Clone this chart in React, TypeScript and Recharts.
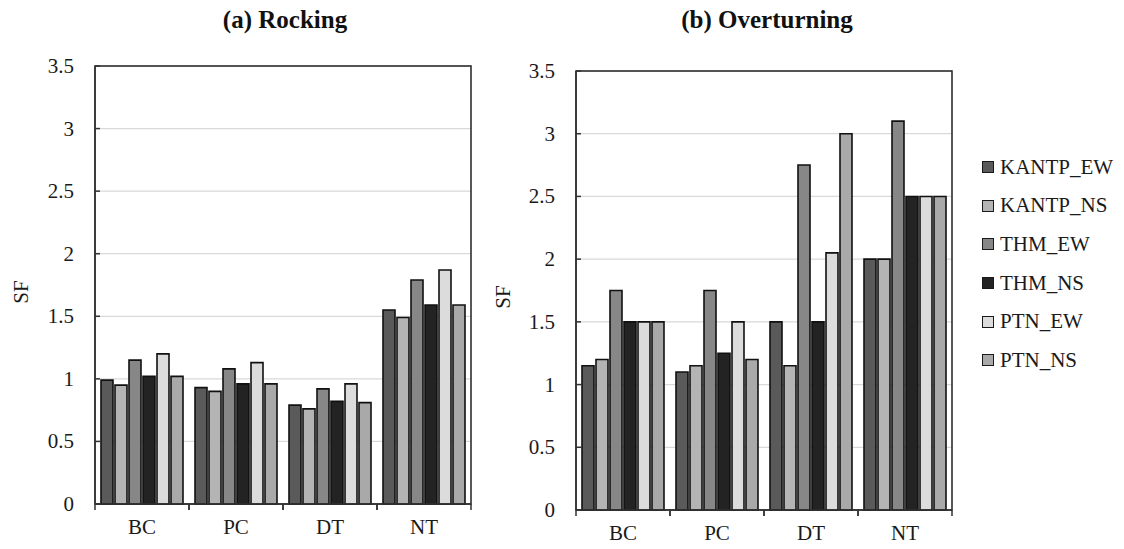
import { BarChart, Bar, XAxis, YAxis, CartesianGrid, ReferenceArea } from "recharts";

const categories = ["BC", "PC", "DT", "NT"];
const seriesNames = ["KANTP_EW", "KANTP_NS", "THM_EW", "THM_NS", "PTN_EW", "PTN_NS"];
const seriesColors = ["#5a5a5a", "#b4b4b4", "#878787", "#232323", "#dcdcdc", "#a9a9a9"];
const yTicks = [0, 0.5, 1, 1.5, 2, 2.5, 3, 3.5];

// (a) Rocking, one list per series in category order
const rockKantpEw = [0.99, 0.93, 0.79, 1.55];
const rockKantpNs = [0.95, 0.9, 0.76, 1.49];
const rockThmEw = [1.15, 1.08, 0.92, 1.79];
const rockThmNs = [1.02, 0.96, 0.82, 1.59];
const rockPtnEw = [1.2, 1.13, 0.96, 1.87];
const rockPtnNs = [1.02, 0.96, 0.81, 1.59];

// (b) Overturning
const overKantpEw = [1.15, 1.1, 1.5, 2.0];
const overKantpNs = [1.2, 1.15, 1.15, 2.0];
const overThmEw = [1.75, 1.75, 2.75, 3.1];
const overThmNs = [1.5, 1.25, 1.5, 2.5];
const overPtnEw = [1.5, 1.5, 2.05, 2.5];
const overPtnNs = [1.5, 1.2, 3.0, 2.5];

const buildRows = (lists: number[][]) =>
  categories.map((cat, i) => {
    const row: Record<string, string | number> = { cat };
    seriesNames.forEach((s, j) => (row[s] = lists[j][i]));
    return row;
  });

const rockingData = buildRows([rockKantpEw, rockKantpNs, rockThmEw, rockThmNs, rockPtnEw, rockPtnNs]);
const overturningData = buildRows([overKantpEw, overKantpNs, overThmEw, overThmNs, overPtnEw, overPtnNs]);

const FONT = "'Liberation Serif', 'Times New Roman', serif";
const HALF_BAND = 47;

const YTick = (props: any) => {
  const { x, y, payload } = props;
  return (
    <g>
      <line x1={x} x2={x + 5} y1={y} y2={y} stroke="#333" strokeWidth={1.5} />
      <text x={x - 21} y={y} textAnchor="end" dominantBaseline="central" fontSize={21} fontFamily={FONT} fill="#1a1a1a">
        {payload.value}
      </text>
    </g>
  );
};

const XTick = (props: any) => {
  const { x, y, payload } = props;
  return (
    <g>
      <line x1={x - HALF_BAND} x2={x - HALF_BAND} y1={y} y2={y + 6} stroke="#333" strokeWidth={1.5} />
      <line x1={x + HALF_BAND} x2={x + HALF_BAND} y1={y} y2={y + 6} stroke="#333" strokeWidth={1.5} />
      <text x={x} y={y + 23} textAnchor="middle" dominantBaseline="central" fontSize={21} fontFamily={FONT} fill="#1a1a1a">
        {payload.value}
      </text>
    </g>
  );
};

const Panel = ({ data, width, margin }: { data: any[]; width: number; margin: any }) => (
  <BarChart width={width} height={549} data={data} margin={margin} barCategoryGap={6} barGap={2}>
    <CartesianGrid vertical={false} stroke="#d9d9d9" strokeWidth={1.2} />
    <XAxis
      dataKey="cat"
      height={30}
      tickSize={0}
      tickMargin={0}
      tickLine={false}
      axisLine={{ stroke: "#333", strokeWidth: 1.5 }}
      tick={<XTick />}
      interval={0}
    />
    <YAxis
      width={60}
      domain={[0, 3.5]}
      ticks={yTicks}
      tickSize={0}
      tickMargin={0}
      tickLine={false}
      axisLine={{ stroke: "#333", strokeWidth: 1.5 }}
      tick={<YTick />}
      interval={0}
    />
    {seriesNames.map((s, i) => (
      <Bar key={s} dataKey={s} fill={seriesColors[i]} stroke="#111" strokeWidth={1.6} isAnimationActive={false} />
    ))}
    <ReferenceArea y1={0} y2={3.5} fill="none" stroke="#222" strokeWidth={1.5} ifOverflow="visible" />
  </BarChart>
);

const Title = ({ text, cx }: { text: string; cx: number }) => (
  <div
    style={{
      position: "absolute",
      left: cx - 150,
      width: 300,
      top: 5,
      textAlign: "center",
      fontFamily: FONT,
      fontWeight: "bold",
      fontSize: 25,
      lineHeight: "30px",
      color: "#111",
    }}
  >
    {text}
  </div>
);

const SFLabel = ({ cx, cy }: { cx: number; cy: number }) => (
  <div
    style={{
      position: "absolute",
      left: cx - 20,
      top: cy - 12,
      width: 40,
      height: 24,
      lineHeight: "24px",
      textAlign: "center",
      transform: "rotate(-90deg)",
      fontFamily: FONT,
      fontSize: 21,
      color: "#1a1a1a",
    }}
  >
    SF
  </div>
);

export default function App() {
  return (
    <div style={{ position: "absolute", left: 0, top: 0, width: 1124, height: 549, background: "#fff", overflow: "hidden" }}>
      <Title text="(a) Rocking" cx={285} />
      <Title text="(b) Overturning" cx={767} />
      <SFLabel cx={21} cy={292} />
      <SFLabel cx={503} cy={297} />
      <div style={{ position: "absolute", left: 0, top: 0 }}>
        <Panel data={rockingData} width={500} margin={{ top: 66, right: 29, left: 35, bottom: 15 }} />
      </div>
      <div style={{ position: "absolute", left: 500, top: 0 }}>
        <Panel data={overturningData} width={460} margin={{ top: 71, right: 8, left: 16, bottom: 9 }} />
      </div>
      <div style={{ position: "absolute", left: 982, top: 148 }}>
        {seriesNames.map((s, i) => (
          <div key={s} style={{ display: "flex", alignItems: "center", height: 38.6 }}>
            <span
              style={{
                display: "inline-block",
                width: 10,
                height: 10,
                background: seriesColors[i],
                border: "1px solid #1a1a1a",
                marginRight: 6,
              }}
            />
            <span style={{ fontFamily: FONT, fontSize: 21, color: "#1a1a1a", whiteSpace: "nowrap" }}>{s}</span>
          </div>
        ))}
      </div>
    </div>
  );
}
